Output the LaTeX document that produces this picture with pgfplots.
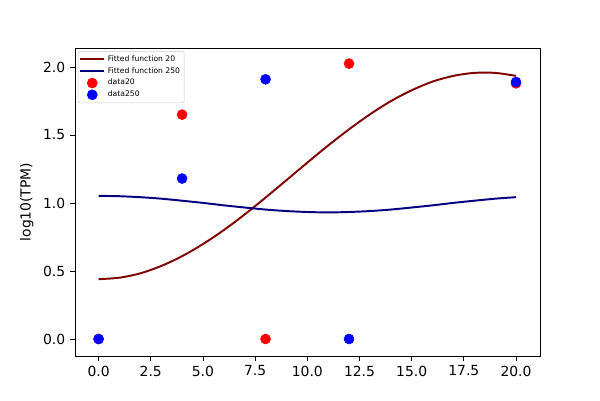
\documentclass[border=0pt]{standalone}
\usepackage{fontspec}
\setmainfont{DejaVu Sans}
\usepackage{pgfplots}
\pgfplotsset{compat=1.18}
\definecolor{maroonc}{HTML}{800000}
\definecolor{navyc}{HTML}{000080}
\begin{document}
\begin{tikzpicture}[x=1pt,y=1pt]
\begin{axis}[
  name=ax,
  scale only axis,
  width=334.8pt, height=221.76pt,
  xmin=-1.13, xmax=21.15,
  ymin=-0.125, ymax=2.14,
  xtick={0,2.5,...,20}, ytick={0,0.5,...,2},
  xticklabel style={/pgf/number format/.cd,fixed,fixed zerofill,precision=1},
  yticklabel style={/pgf/number format/.cd,fixed,fixed zerofill,precision=1},
  /pgf/number format/assume math mode=true,
  tick label style={font=\fontsize{10}{12}\selectfont},
  tick align=outside, tick pos=left,
  major tick length=3.5pt,
  axis line style={line width=0.6pt},
  every tick/.style={black,line width=0.6pt},
  ylabel={log10(TPM)},
  ylabel style={font=\fontsize{10}{12}\selectfont},
  legend cell align=left,
  legend style={font=\fontsize{5.5}{7}\selectfont, draw=black!20, rounded corners=1.5pt,
    at={(0.006,0.99)}, anchor=north west, inner sep=1pt, row sep=-1.2pt,
    fill=white},
]
\addplot[maroonc, line width=1.4pt, smooth] coordinates {
(0,0.440) (1,0.451) (2,0.483) (3,0.537) (4,0.609) (5,0.698) (6,0.801) (7,0.916)
(8,1.040) (9,1.168) (10,1.297) (11,1.423) (12,1.542) (13,1.652) (14,1.749)
(15,1.829) (16,1.893) (17,1.935) (18,1.957) (19,1.957) (20,1.935)};
\addlegendentry{Fitted function 20}
\addplot[navyc, line width=1.4pt, smooth] coordinates {
(0,1.053) (1,1.050) (2,1.043) (3,1.032) (4,1.017) (5,1.001) (6,0.983) (7,0.967)
(8,0.952) (9,0.941) (10,0.934) (11,0.931) (12,0.934) (13,0.941) (14,0.952)
(15,0.967) (16,0.983) (17,1.001) (18,1.017) (19,1.032) (20,1.043)};
\addlegendentry{Fitted function 250}
\addplot[only marks, mark=*, mark size=3.6pt, red, mark options={draw=none, fill=red}] coordinates {
(0,0) (4,1.65) (8,0) (12,2.025) (20,1.88)};
\addlegendentry{data20}
\addplot[only marks, mark=*, mark size=3.6pt, blue, mark options={draw=none, fill=blue}] coordinates {
(0,0) (4,1.18) (8,1.91) (12,0) (20,1.89)};
\addlegendentry{data250}
\end{axis}
\pgfresetboundingbox
\path ([xshift=-54pt,yshift=-31.68pt]ax.south west) rectangle ([xshift=43.2pt,yshift=34.56pt]ax.north east);
\end{tikzpicture}
\end{document}
